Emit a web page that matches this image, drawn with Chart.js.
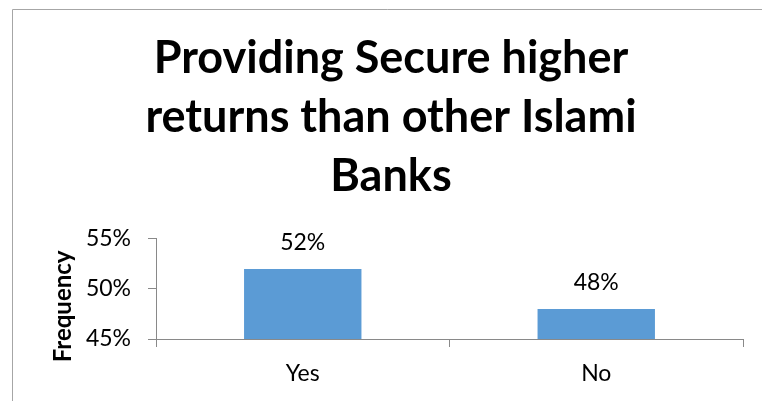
<!DOCTYPE html>
<html>
<head>
<meta charset="utf-8">
<script src="https://cdn.jsdelivr.net/npm/chart.js@4/dist/chart.umd.min.js"></script>
<style>
  html, body { margin: 0; padding: 0; background: #ffffff; }
  #wrap { width: 762px; height: 401px; position: relative; }
</style>
</head>
<body>
<div id="wrap"><canvas id="chart" width="762" height="401"></canvas></div>
<script>
// Survey answers and their share of respondents (%)
const categories = ['Yes', 'No'];
const shares = [52, 48];
const titleLines = ['Providing Secure higher', 'returns than other Islami', 'Banks'];
const yAxisTitle = 'Frequency';
const yMin = 45, yMax = 55, yStep = 5;

const FONT = 'Lato, "Open Sans", sans-serif';
const AXIS_GREY = '#898989';
const LABEL_SIZE = 23;

// Thin frame along the top and left edges of the chart
const framePlugin = {
  id: 'frame',
  beforeDraw(chart) {
    const ctx = chart.ctx;
    ctx.save();
    ctx.strokeStyle = '#a6a6a6';
    ctx.lineWidth = 1;
    ctx.beginPath();
    ctx.moveTo(12.5, chart.height);
    ctx.lineTo(12.5, 9.5);
    ctx.lineTo(chart.width, 9.5);
    ctx.stroke();
    ctx.restore();
  }
};

// Percentage label above each bar
const valueLabels = {
  id: 'valueLabels',
  afterDatasetsDraw(chart) {
    const ctx = chart.ctx;
    const meta = chart.getDatasetMeta(0);
    ctx.save();
    ctx.font = LABEL_SIZE + 'px ' + FONT;
    ctx.fillStyle = '#000000';
    ctx.textAlign = 'center';
    ctx.textBaseline = 'alphabetic';
    meta.data.forEach((bar, i) => {
      ctx.fillText(chart.data.datasets[0].data[i] + '%', bar.x, bar.y - 19);
    });
    ctx.restore();
  }
};

new Chart(document.getElementById('chart'), {
  type: 'bar',
  data: {
    labels: categories,
    datasets: [{
      data: shares,
      backgroundColor: '#5b9bd5',
      borderWidth: 0,
      barPercentage: 0.4,
      categoryPercentage: 1.0
    }]
  },
  options: {
    responsive: false,
    animation: false,
    devicePixelRatio: 1,
    layout: { padding: { left: 39, right: 19, top: 0, bottom: 0 } },
    plugins: {
      legend: { display: false },
      tooltip: { enabled: false },
      title: {
        display: true,
        text: titleLines,
        color: '#000000',
        font: { family: FONT, size: 45, weight: 'bold', lineHeight: 1.31 },
        padding: { top: 29, bottom: 33 }
      }
    },
    scales: {
      x: {
        offset: true,
        grid: {
          offset: true,
          drawOnChartArea: false,
          drawTicks: true,
          tickLength: 8,
          color: AXIS_GREY
        },
        border: { color: AXIS_GREY, width: 1 },
        ticks: {
          color: '#000000',
          font: { family: FONT, size: LABEL_SIZE },
          padding: 13
        },
        afterFit(scale) { scale.height = 62; }
      },
      y: {
        min: yMin,
        max: yMax,
        grid: {
          drawOnChartArea: false,
          drawTicks: true,
          tickLength: 8,
          color: AXIS_GREY
        },
        border: { color: AXIS_GREY, width: 1 },
        ticks: {
          stepSize: yStep,
          color: '#000000',
          font: { family: FONT, size: LABEL_SIZE },
          padding: 17,
          callback: (v) => v + '%'
        },
        title: {
          display: true,
          text: yAxisTitle + '      ',
          color: '#000000',
          font: { family: FONT, size: 24, weight: 'bold' },
          padding: { top: 10, bottom: 0 }
        },
        afterFit(scale) { scale.width = 117; }
      }
    }
  },
  plugins: [framePlugin, valueLabels]
});
</script>
</body>
</html>
